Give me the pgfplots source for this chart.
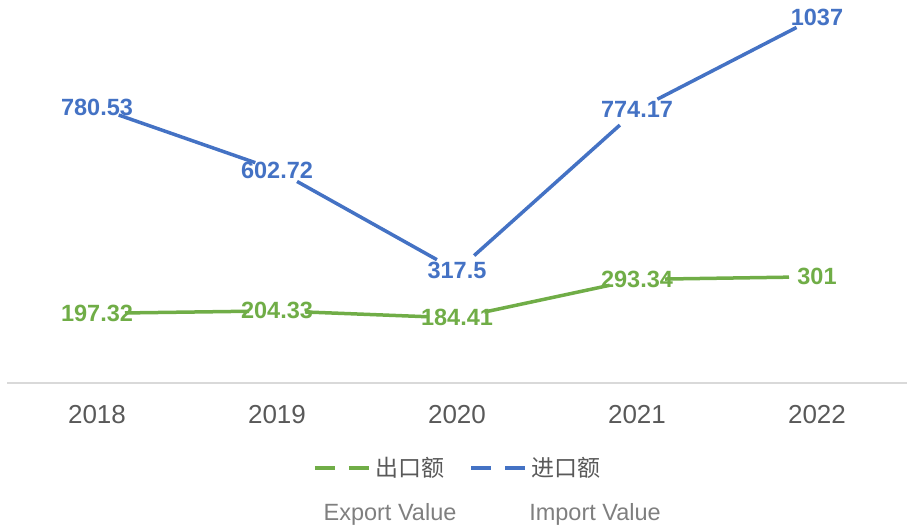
\documentclass[border=0pt]{standalone}
\usepackage{fontspec}
\setmainfont{Liberation Sans}
\newfontfamily\cjk{Noto Sans CJK SC}
\usepackage{pgfplots}
\pgfplotsset{compat=1.18}
\definecolor{cblue}{HTML}{4472C4}
\definecolor{cgreen}{HTML}{70AD47}
\definecolor{ctext}{HTML}{595959}
\definecolor{ctext2}{HTML}{7F7F7F}
\definecolor{caxis}{HTML}{D9D9D9}

\begin{document}
\begin{tikzpicture}
\path[use as bounding box] (0,0) rectangle (908pt,529pt);
\begin{axis}[
  at={(7pt,146pt)}, anchor=south west,
  scale only axis, width=900pt, height=383pt,
  xmin=-0.5, xmax=4.5, ymin=0, ymax=1085,
  axis x line=bottom, axis y line=none,
  x axis line style={-, draw=caxis, line width=1.5pt},
  xtick={0,1,2,3,4}, xticklabels={2018,2019,2020,2021,2022},
  major tick length=0pt,
  xticklabel style={font=\fontsize{26}{30}\selectfont, text=ctext, yshift=-19pt},
  clip=false,
  legend columns=2,
  legend style={at={(0.5,-0.222)}, anchor=center, draw=none, fill=none,
    inner sep=0pt, font={\cjk\fontsize{23}{27}\selectfont}, text=ctext,
    nodes={inner sep=0pt},
    /tikz/every odd column/.append style={column sep=5pt},
    /tikz/every even column/.append style={column sep=25pt}},
  legend image code/.code={\draw[#1, dash pattern=on 20pt off 14pt] (0pt,0pt) -- (54pt,0pt);},
]
% labels
\addplot[draw=none, forget plot, nodes near coords, point meta=explicit symbolic,
  nodes near coords align={center},
  every node near coord/.append style={font=\bfseries\fontsize{23.5}{27}\selectfont, text=cgreen}]
  coordinates {(0,197.32) [197.32] (1,204.33) [204.33] (2,184.41) [184.41] (3,293.34) [293.34] (4,301) [301]};
\addplot[draw=none, forget plot, nodes near coords, point meta=explicit symbolic,
  nodes near coords align={center},
  every node near coord/.append style={font=\bfseries\fontsize{23.5}{27}\selectfont, text=cblue}]
  coordinates {(0,780.53) [780.53] (1,602.72) [602.72] (2,317.5) [317.5] (3,774.17) [774.17] (4,1037) [1037]};
% export segments
\addplot[cgreen, line width=3.5pt, shorten <=28pt, shorten >=28pt, forget plot] coordinates {(0,197.32) (1,204.33)};
\addplot[cgreen, line width=3.5pt, shorten <=28pt, shorten >=28pt, forget plot] coordinates {(1,204.33) (2,184.41)};
\addplot[cgreen, line width=3.5pt, shorten <=28pt, shorten >=28pt, forget plot] coordinates {(2,184.41) (3,293.34)};
\addplot[cgreen, line width=3.5pt, shorten <=28pt, shorten >=28pt, forget plot] coordinates {(3,293.34) (4,301)};
% import segments
\addplot[cblue, line width=3.5pt, shorten <=23pt, shorten >=23pt, forget plot] coordinates {(0,780.53) (1,602.72)};
\addplot[cblue, line width=3.5pt, shorten <=23pt, shorten >=23pt, forget plot] coordinates {(1,602.72) (2,317.5)};
\addplot[cblue, line width=3.5pt, shorten <=23pt, shorten >=23pt, forget plot] coordinates {(2,317.5) (3,774.17)};
\addplot[cblue, line width=3.5pt, shorten <=23pt, shorten >=23pt, forget plot] coordinates {(3,774.17) (4,1037)};
\addlegendimage{cgreen, line width=3.5pt}
\addlegendentry{出口额}
\addlegendimage{cblue, line width=3.5pt}
\addlegendentry{进口额}
\end{axis}
\node[font=\fontsize{23.5}{28}\selectfont, text=ctext2] at (390pt,15pt) {Export Value};
\node[font=\fontsize{23.5}{28}\selectfont, text=ctext2] at (595pt,15pt) {Import Value};
\end{tikzpicture}
\end{document}
